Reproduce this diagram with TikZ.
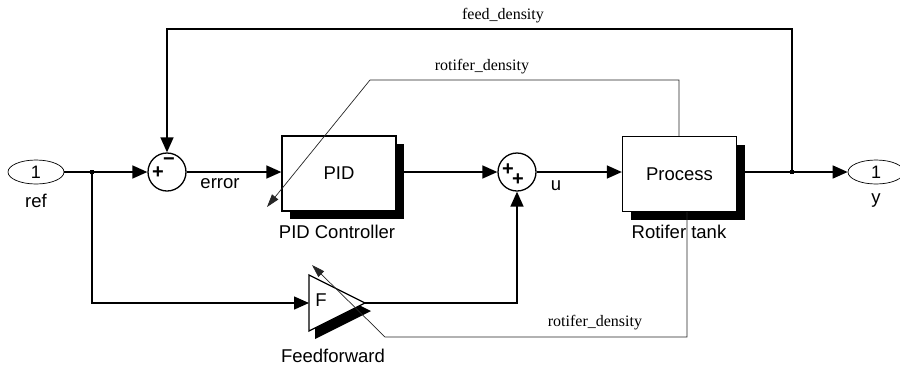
\documentclass[tikz,border=0pt]{standalone}
\usepackage{fontspec}
\setmainfont{Liberation Sans}
\newfontfamily\seriffont{Liberation Serif}
\usetikzlibrary{arrows.meta,shapes.geometric,shadows}
\begin{document}
\begin{tikzpicture}[x=1pt,y=-1pt,
  sig/.style={line width=1.5pt},
  thinl/.style={line width=0.7pt, draw=black!85},
  arr/.style={-{Triangle[length=15pt,width=13pt]}},
  tarr/.style={-{Triangle[length=13pt,width=8pt]}},
  port/.style={ellipse, draw, line width=0.7pt, minimum width=56pt, minimum height=24pt, inner sep=0pt, font=\fontsize{18}{18}\selectfont},
  sumb/.style={circle, draw, line width=1.3pt, minimum size=38pt, inner sep=0pt},
  blk/.style={draw, fill=white, line width=1.3pt, minimum width=114pt, minimum height=75pt, inner sep=0pt,
    font=\fontsize{18.5}{18.5}\selectfont, general shadow={fill=black, shadow xshift=8pt, shadow yshift=-8pt}},
  lbl/.style={font=\fontsize{18.5}{18.5}\selectfont, inner sep=0pt},
  slbl/.style={font=\seriffont\fontsize{16}{16}\selectfont, inner sep=0pt},
  sgn/.style={font=\bfseries\fontsize{20}{20}\selectfont, inner sep=0pt},
  dotb/.style={fill, minimum size=4pt, inner sep=0pt}
]
\useasboundingbox (0,0) rectangle (900,365);

% blocks
\node[port] (ref) at (36,172) {1};
\node[lbl] (reflbl) at (36,201) {ref};
\node[sumb] (sum1) at (167,172) {};
\node[sgn] (s1p) at (158,173) {+};
\node[sgn] (s1m) at (169,162) {−};
\node[blk] (pid) at (339,173.5) {PID};
\node[lbl] (pidlbl) at (337,232) {PID Controller};
\node[sumb] (sum2) at (517,172) {};
\node[sgn] (s2p) at (508,170) {+};
\node[sgn] (s2q) at (518,180) {+};
\node[blk] (proc) at (679.5,174) {Process};
\node[lbl] (proclbl) at (679,232) {Rotifer tank};
\node[port] (yout) at (876,172) {1};
\node[lbl] (ylbl) at (876,201) {y};

% feedforward gain
\fill (315,283) -- (315,339) -- (371,311) -- cycle;
\draw[fill=white, line width=1.3pt] (309,275) -- (309,331) -- (365,303) -- cycle;
\coordinate (ffin) at (309,303);
\coordinate (ffout) at (365,303);
\node[lbl] (ffF) at (321,300) {F};
\node[lbl] (fflbl) at (333,356) {Feedforward};

% branch points
\node[dotb] (b1) at (92,172) {};
\node[dotb] (b2) at (792,172) {};
\coordinate (top) at (792,29);

% signal lines
\draw[sig,arr] (ref.east) -- (sum1.west);
\draw[sig,arr] (b1.center) |- (ffin);
\draw[sig,arr] (sum1.east) -- (sum1.east -| pid.west);
\node[lbl] (err) at (220,184) {error};
\draw[sig,arr] (sum1.east -| pid.east) -- (sum2.west);
\draw[sig,arr] (sum2.east) -- (sum2.east -| proc.west);
\node[lbl] (ulbl) at (556,186) {u};
\draw[sig,arr] (yout.west -| proc.east) -- (yout.west);
\draw[sig,arr] (b2.center) -- (top) -| (sum1.north);
\node[slbl] (fdlbl) at (503,16) {feed\_density};
\draw[sig,arr] (ffout) -| (sum2.south);

% goto/from thin lines
\coordinate (g1) at (679,80);
\coordinate (g2) at (370,80);
\coordinate (g3) at (267,207);
\draw[thinl,tarr] (proc.north -| g1) -- (g1) -- (g2) -- (g3);
\node[slbl] (rd1) at (482,67) {rotifer\_density};
\coordinate (h1) at (687,337);
\coordinate (h2) at (385,337);
\coordinate (h3) at (312,265);
\draw[thinl,tarr] (proc.south -| h1) -- (h1) -- (h2) -- (h3);
\node[slbl] (rd2) at (595,323) {rotifer\_density};
\end{tikzpicture}
\end{document}
